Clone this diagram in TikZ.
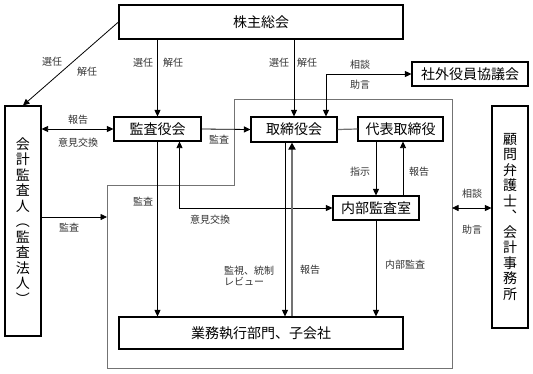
\documentclass[tikz,border=0pt]{standalone}
\usepackage{fontspec}
\setmainfont{Noto Sans CJK JP}
\usetikzlibrary{arrows.meta}
\definecolor{linegray}{gray}{0.45}
\definecolor{textgray}{gray}{0.2}
\begin{document}
\begin{tikzpicture}[x=1pt,y=-1pt,
		box/.style={draw,line width=1.1pt,inner sep=0pt,font=\fontsize{14}{15.5}\selectfont},
		lbl/.style={font=\fontsize{10}{11}\selectfont,text=textgray,inner sep=0pt},
		arr/.style={-{Triangle[length=6.5pt,width=6pt]},line width=0.8pt},
		twoarr/.style={{Triangle[length=6.5pt,width=6pt]}-{Triangle[length=6.5pt,width=6pt]},line width=0.8pt}]
	\useasboundingbox (0,0) rectangle (533,373);
	\draw[linegray,line width=0.8pt] (107,185) -- (234,185) -- (234,99) -- (452,99) -- (452,368) -- (107,368) -- cycle;
	\coordinate (regL) at (107,217);
	\coordinate (regR) at (452,208);
	\node[box,minimum width=284pt,minimum height=34pt] (kabunushi) at (261,22) {株主総会};
	\node[box,minimum width=87pt,minimum height=24pt] (kansayaku) at (157.5,129) {監査役会};
	\node[box,minimum width=86pt,minimum height=25pt] (torishimari) at (294,129.5) {取締役会};
	\node[box,minimum width=85pt,minimum height=24pt] (daihyo) at (400.5,129) {代表取締役};
	\node[box,minimum width=116pt,minimum height=24pt] (shagai) at (470,74) {社外役員協議会};
	\node[box,minimum width=86pt,minimum height=24pt] (naibu) at (376,208) {内部監査室};
	\node[box,minimum width=284pt,minimum height=32pt] (gyomu) at (261,333) {業務執行部門、子会社};
	\node[box,minimum width=36pt,minimum height=230pt,align=center] (kaikei) at (23,221) {会\\計\\監\\査\\人\\︵\\監\\査\\法\\人\\︶};
	\node[box,minimum width=36pt,minimum height=222pt,align=center] (komon) at (510,217) {顧\\問\\弁\\護\\士\\︑\\会\\計\\事\\務\\所};

	\draw[arr] (kabunushi.west) -- (kaikei.north);
	\node[lbl] (senninA) at (52,62) {選任};
	\node[lbl] (kaininA) at (87,72) {解任};
	\draw[arr] (kansayaku.north |- kabunushi.south) -- (kansayaku.north);
	\node[lbl] (senninB) at (143,63) {選任};
	\node[lbl] (kaininB) at (173,63) {解任};
	\draw[arr] (torishimari.north |- kabunushi.south) -- (torishimari.north);
	\node[lbl] (senninC) at (279,63) {選任};
	\node[lbl] (kaininC) at (307,63) {解任};
	\draw[twoarr] ([xshift=32pt]torishimari.north) |- (shagai.west);
	\node[lbl] (sodanA) at (360,65) {相談};
	\node[lbl] (jogenA) at (360,85) {助言};
	\draw[twoarr] (kaikei.east |- kansayaku.west) -- (kansayaku.west);
	\node[lbl] (hokokuA) at (78,120) {報告};
	\node[lbl] (ikenA) at (78,143) {意見交換};
	\draw[arr] (kansayaku.east) -- (torishimari.west);
	\node[lbl] (kansaA) at (219,140) {監査};
	\draw[linegray,line width=1.2pt] (torishimari.east) -- (daihyo.west);
	\draw[arr] (naibu.north |- daihyo.south) -- (naibu.north);
	\node[lbl] (shiji) at (360,172) {指示};
	\draw[arr] ([xshift=27pt]naibu.north) -- ([xshift=27pt]naibu.north |- daihyo.south);
	\node[lbl] (hokokuB) at (419,172) {報告};
	\draw[arr] (kansayaku.south) -- (kansayaku.south |- gyomu.north);
	\node[lbl] (kansaB) at (143,202) {監査};
	\draw[twoarr] ([xshift=22pt]kansayaku.south) |- (naibu.west);
	\node[lbl] (ikenB) at (210,220) {意見交換};
	\draw[arr] ([xshift=-9pt]torishimari.south) -- ([xshift=-9pt]torishimari.south |- gyomu.north);
	\node[lbl,align=left,anchor=west] (kanshi) at (224,276) {監視、統制\\レビュー};
	\draw[-{Triangle[length=7pt,width=7pt,black]},linegray,line width=1.8pt] ([xshift=-2pt]torishimari.south |- gyomu.north) -- ([xshift=-2pt]torishimari.south);
	\node[lbl] (hokokuC) at (310,270) {報告};
	\draw[arr] (naibu.south) -- (naibu.south |- gyomu.north);
	\node[lbl] (naibukansa) at (405,265) {内部監査};
	\draw[arr] (kaikei.east |- regL) -- (regL);
	\node[lbl] (kansaC) at (69,228) {監査};
	\draw[twoarr] (regR) -- (komon.west |- regR);
	\node[lbl] (sodanB) at (472,194) {相談};
	\node[lbl] (jogenB) at (472,230) {助言};
\end{tikzpicture}
\end{document}
